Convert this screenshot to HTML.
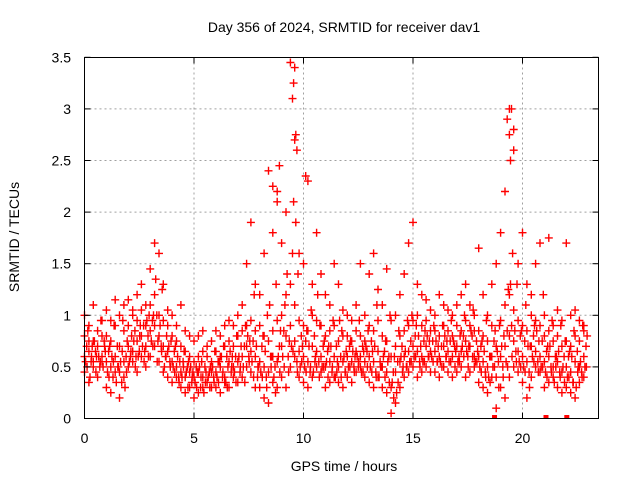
<!DOCTYPE html>
<html><head><meta charset="utf-8"><style>body{margin:0;background:#fff}svg{display:block;font-family:"Liberation Sans",sans-serif}</style></head>
<body>
<svg id="chart" width="640" height="480" xmlns="http://www.w3.org/2000/svg">
<rect width="640" height="480" fill="#fff"/>
<g id="grid"></g>
<g id="pts"></g>
<rect x="84.5" y="57.5" width="514" height="361" fill="none" stroke="#000" stroke-width="1"/>
<g id="ticks"></g>
<text x="344" y="32" font-size="14" text-anchor="middle">Day 356 of 2024, SRMTID for receiver dav1</text>
<text x="344" y="471" font-size="14" text-anchor="middle">GPS time / hours</text>
<text transform="translate(19,237) rotate(-90)" font-size="14" text-anchor="middle">SRMTID / TECUs</text>
</svg>
<script>
const xTicks=[0,5,10,15,20];
const yTicks=[0,0.5,1,1.5,2,2.5,3,3.5];
const yTickLabels=["0","0.5","1","1.5","2","2.5","3","3.5"];
const serA=[.45,.35,.5,.4,.55,.3,.25,.45,.2,.4,.5,.55,.45,.6,.5,.6,.7,.55,.45,.4,.35,.4,.3,.25,.3,.2,.25,.3,.35,.3,.3,.25,.35,.3,.4,.35,.4,.5,.45,.3,.3,.2,.15,.35,.3,.4,.3,.5,.6,.4,.35,.3,.4,.5,.45,.3,.35,.4,.35,.3,.4,.35,.45,.5,.4,.35,.3,.4,.3,.25,.05,.15,.3,.4,.45,.5,.4,.45,.5,.45,.45,.4,.5,.45,.4,.45,.5,.4,.45,.5,.35,.3,.25,.4,.1,.3,.2,.4,.5,.45,.35,.2,.4,.5,.45,.3,.35,.4,.3,.25,.3,.25,.2,.35,.4];
const serB=[.6,.65,.55,.7,.6,.55,.5,.6,.45,.55,.7,.65,.75,.8,.7,.85,.9,.8,.7,.65,.55,.5,.45,.4,.45,.4,.45,.4,.35,.45,.45,.5,.4,.55,.5,.55,.6,.7,.65,.6,.55,.5,.45,.6,.55,.7,.8,.9,.75,.65,.6,.55,.7,.65,.6,.5,.55,.6,.5,.55,.6,.55,.65,.6,.55,.6,.55,.65,.5,.45,.3,.45,.55,.6,.65,.7,.65,.6,.7,.65,.65,.6,.7,.65,.6,.7,.65,.75,.7,.6,.6,.55,.5,.6,.4,.6,.7,.8,.75,.65,.6,.55,.7,.65,.6,.55,.6,.5,.55,.45,.5,.45,.55,.5,.6];
const serC=[.8,.9,.75,.85,.95,.8,.75,.9,.7,.85,.9,1.0,.95,1.05,.9,1.1,1.2,1.0,.95,.9,.8,.75,.7,.65,.6,.55,.6,.65,.6,.55,.65,.6,.7,.75,.7,.8,.85,.9,.95,.85,.9,.8,.75,.85,.95,1.0,1.2,1.3,1.1,.95,.9,.85,1.0,.95,.9,.8,.85,.9,.75,.8,.8,.75,.85,.8,.75,.9,.85,.95,.8,.75,.6,.7,.8,.85,.9,.95,1.0,.9,.95,.85,.85,.8,.9,.85,.8,.9,.85,.95,.9,.85,.85,.8,.75,.9,.7,.95,1.1,1.2,1.05,.95,.9,.85,1.0,.95,.9,.8,.85,.75,.8,.7,.75,.7,.8,.75,.85];
const serD=[1.0,.75,1.1,.7,.8,1.05,.95,1.15,1.0,1.1,1.15,1.05,1.2,1.3,1.1,1.45,1.7,1.6,1.3,1.05,1.0,.9,1.1,.85,.8,.75,.8,.85,.7,.75,.85,.8,.9,.95,.9,1.0,1.1,1.5,1.9,1.3,1.2,1.6,2.4,1.8,2.2,1.7,2.0,3.45,2.7,1.6,1.5,2.3,1.3,1.8,1.4,1.2,1.1,1.5,1.3,1.05,1.0,.95,1.1,1.5,1.0,1.4,1.6,1.25,1.1,1.45,.95,1.0,1.2,1.4,1.7,1.9,1.3,1.2,1.15,1.05,1.0,1.2,1.1,1.05,1.0,1.1,1.2,1.3,1.1,1.0,1.65,1.2,1.0,1.3,1.5,1.8,2.2,3.0,2.6,1.5,1.8,1.3,1.2,1.5,1.7,1.0,1.75,.9,1.05,.95,1.7,1.0,1.05,.95,.9];
const serE=[.7,.55,.65,.5,.75,.65,.4,.7,.35,.6,.6,.85,.65,.9,.8,.95,1.0,.7,.6,.55,.65,.4,.55,.5,.35,.5,.3,.5,.45,.4,.55,.4,.6,.45,.6,.45,.7,.6,.75,.4,.7,.4,.6,.5,.7,.85,.6,1.6,.55,.8,.75,.45,.8,.55,.7,.65,.45,.7,.6,.45,.7,.5,.5,.7,.65,.75,.45,.55,.65,.6,.45,.55,.7,.5,.75,.8,.55,.75,.6,.75,.55,.7,.6,.75,.7,.6,.8,.6,.8,.75,.7,.45,.6,.75,.55,.5,.85,.9,.65,.8,.75,.45,.8,.55,.75,.65,.5,.6,.45,.6,.6,.35,.65,.45,.7];
const serF=[.55,.4,.75,.6,.5,.45,.6,.35,.55,.3,.55,.75,.6,.7,.95,.75,1.35,.9,.5,.7,.5,.6,.4,.45,.5,.35,.5,.25,.4,.5,.4,.6,.35,.65,.45,.6,.5,.8,.55,.7,.45,.65,1.1,.4,.6,.6,1.4,.7,1.9,.5,.5,.7,.45,1.2,.5,.55,.7,.4,.95,.6,.5,.65,.6,.45,.7,.5,.7,.4,.6,.55,.35,.25,.6,.65,.55,.6,.8,.55,.8,.6,.75,.55,.8,.55,.75,.55,.7,.65,.85,.55,.5,.65,.4,.5,.65,.7,.55,1.3,.85,.55,.5,.7,.6,.85,.5,.45,.7,.35,.65,.5,.4,.6,.3,.55,.5];
const serG=[.85,.7,.6,.95,.65,.7,.9,.5,.95,.75,.8,.6,.9,.65,1.0,1.0,.75,1.25,.8,.75,.7,.55,.65,.55,.45,.45,.55,.45,.5,.65,.55,.7,.5,.6,.8,.7,.9,.75,1.2,.5,.8,1.0,.6,1.3,.85,1.1,.75,2.1,1.4,.7,.85,1.05,.6,.9,.75,.7,.95,.55,.85,.65,.75,.6,.95,.65,.85,.65,1.1,.5,.75,1.0,.6,.85,.5,.95,1.0,.9,.7,.85,.75,.9,.7,.9,.75,.95,.65,.8,1.0,.7,1.05,.65,.75,.95,.6,.85,.9,.8,1.25,1.6,1.3,.85,1.1,.7,.9,.75,1.2,.7,.95,.6,.9,.75,.65,.85,.5,.9,.8];
const serH=[.5,.6,.45,.55,.7,.4,.55,.5,.65,.45,.65,.5,.8,.55,.6,.7,.55,.65,.6,.5,.45,.35,.5,.3,.4,.3,.4,.35,.3,.35,.35,.45,.3,.5,.35,.5,.35,.55,.4,.5,.4,.3,.5,.25,.45,.5,.45,.65,.45,.55,.45,.5,.55,.4,.5,.4,.5,.45,.4,.45,.5,.45,.55,.45,.5,.45,.4,.5,.4,.35,.2,.35,.45,.5,.55,.6,.5,.55,.6,.55,.55,.5,.6,.55,.5,.55,.6,.5,.6,.55,.45,.4,.35,.5,.3,.4,.5,.6,.55,.5,.45,.3,.55,.45,.5,.4,.45,.5,.4,.35,.4,.35,.45,.4,.5];
const spikeHours=[9.5,9.55,9.6,9.65,9.7,19.3,19.4,19.45,19.5,8.8,8.9,8.6,10.1,19.6];
const spikeVals=[3.1,3.25,3.4,2.75,2.6,2.9,2.75,2.5,3.0,2.1,2.45,2.25,2.35,2.8];
const zeroHours=[18.7,21.05,22.0];
const X=h=>84.5+h*21.9, Y=v=>418.5-v*103.2;
const NS="http://www.w3.org/2000/svg";
const grid=document.getElementById('grid'),ticks=document.getElementById('ticks'),pts=document.getElementById('pts');
function mk(p,tag,a){const e=document.createElementNS(NS,tag);for(const k in a)e.setAttribute(k,a[k]);p.appendChild(e);return e;}
yTicks.forEach((v,i)=>{
 if(v>0&&v<3.5){const g=mk(grid,'line',{x1:84.5,x2:598.5,y1:Y(v),y2:Y(v),stroke:'#a0a0a0','stroke-dasharray':'2,3'});
 
 }
 mk(ticks,'line',{x1:84.5,x2:90.5,y1:Y(v),y2:Y(v),stroke:'#000'});
 mk(ticks,'line',{x1:592.5,x2:598.5,y1:Y(v),y2:Y(v),stroke:'#000'});
 const t=mk(ticks,'text',{x:71,y:Y(v)+5,'font-size':14,'text-anchor':'end'});t.textContent=yTickLabels[i];
 
 
});
xTicks.forEach(h=>{
 if(h>0){const g=mk(grid,'line',{x1:X(h),x2:X(h),y1:57.5,y2:418.5,stroke:'#a0a0a0','stroke-dasharray':'2,3'});
 
 }
 mk(ticks,'line',{x1:X(h),x2:X(h),y1:418.5,y2:412.5,stroke:'#000'});
 mk(ticks,'line',{x1:X(h),x2:X(h),y1:57.5,y2:63.5,stroke:'#000'});
 const t=mk(ticks,'text',{x:X(h),y:443,'font-size':14,'text-anchor':'middle'});t.textContent=h;
 
 
});
let d='';
function plus(h,v){const x=X(h),y=Y(v);d+=`M${(x-4).toFixed(1)} ${y.toFixed(1)}h8M${x.toFixed(1)} ${(y-4).toFixed(1)}v8`;}
[serA,serB,serC,serD].forEach(s=>s.forEach((v,i)=>plus(i*0.2,v)));
serE.forEach((v,i)=>plus(i*0.2+0.1,v));
serF.forEach((v,i)=>plus(i*0.2+0.05,v));
serG.forEach((v,i)=>plus(i*0.2+0.15,v));
serH.forEach((v,i)=>plus(i*0.2+0.12,v));
spikeHours.forEach((h,i)=>plus(h,spikeVals[i]));
const p=mk(pts,'path',{d:d,stroke:'#ff0000','stroke-width':1.4,fill:'none'});


zeroHours.forEach(h=>{const r=mk(pts,'rect',{x:X(h)-2,y:415,width:5,height:4,fill:'#ff0000'});
 
 });
</script>
</body></html>
